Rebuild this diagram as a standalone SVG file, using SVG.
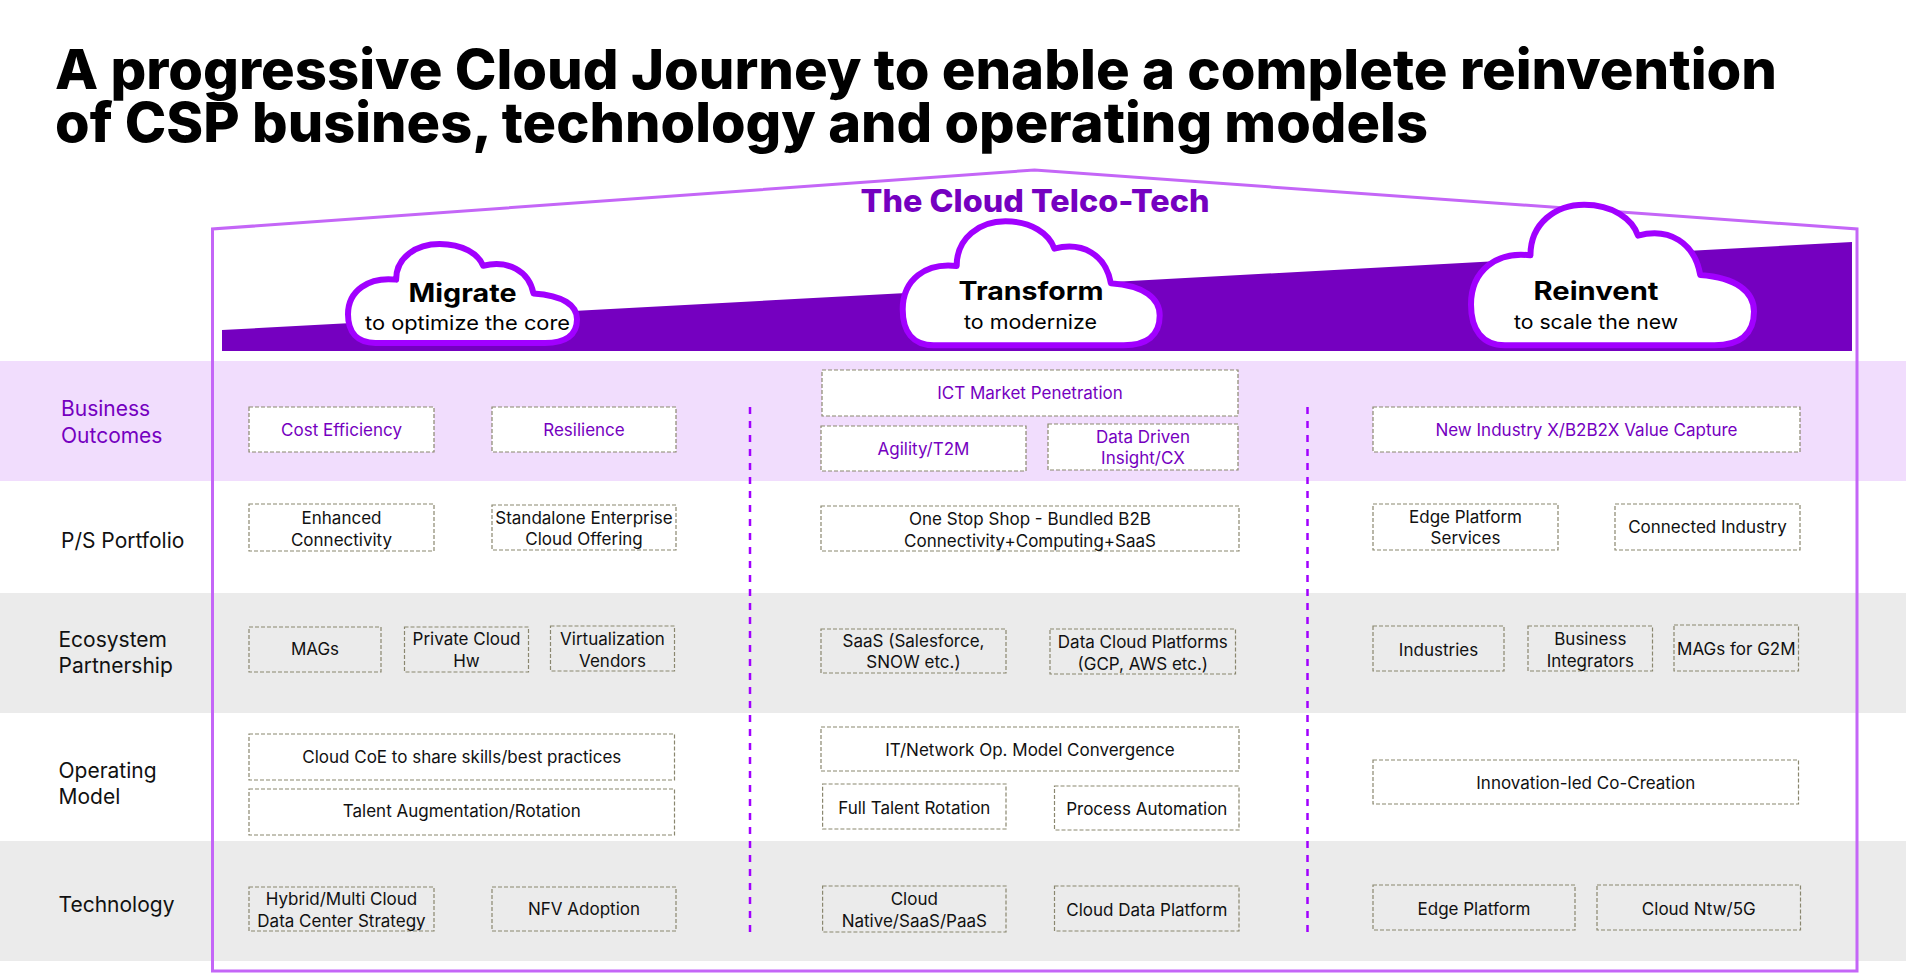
<svg xmlns="http://www.w3.org/2000/svg" width="1906" height="978" viewBox="0 0 1906 978">
  <defs>
    <style>
      .bg { fill: #ffffff; }
      .band-lav { fill: #f1ddfd; }
      .band-gray { fill: #ebebeb; }
      .title { font-family: Inter, "Liberation Sans", sans-serif; font-weight: 800; font-size: 55px; fill: #000; }
      .roof-title { font-family: Inter, "Liberation Sans", sans-serif; font-weight: 800; font-size: 31px; fill: #7500c0; text-anchor: middle; }
      .frame { fill: none; stroke: #c466f7; stroke-width: 3; stroke-linejoin: miter; }
      .wedge { fill: #7500c0; }
      .cloud .shape { fill: #ffffff; stroke: #a100ff; stroke-width: 6; vector-effect: non-scaling-stroke; stroke-linejoin: round; }
      .cloud .head { font-family: Inter, "Liberation Sans", sans-serif; font-weight: 700; font-size: 25px; fill: #000; text-anchor: middle; }
      .cloud .sub { font-family: Inter, "Liberation Sans", sans-serif; font-weight: 400; font-size: 20px; fill: #000; text-anchor: middle; }
      .row text { font-family: Inter, "Liberation Sans", sans-serif; font-size: 21px; fill: #111; }
      .row.purple text { fill: #7500c0; }
      .divider { stroke: #a100ff; stroke-width: 2.5; stroke-dasharray: 7 7; fill: none; }
      .box rect { fill: none; stroke: #8a876f; stroke-width: 1.2; stroke-dasharray: 4 2; }
      .box text { font-family: Inter, "Liberation Sans", sans-serif; font-size: 17px; fill: #111; text-anchor: middle; }
      .box.bo rect { fill: #ffffff; }
      .box.bo text { fill: #7500c0; }
      .box.w rect { fill: #ffffff; }
    </style>
  </defs>

  <rect class="bg" x="0" y="0" width="1906" height="978"/>

  <!-- heading -->
  <g id="heading">
    <text class="title" x="55" y="89" textLength="1722" lengthAdjust="spacingAndGlyphs">A progressive Cloud Journey to enable a complete reinvention</text>
    <text class="title" x="55" y="141.5" textLength="1373" lengthAdjust="spacingAndGlyphs">of CSP busines, technology and operating models</text>
  </g>

  <!-- horizontal row bands -->
  <g id="bands">
    <rect class="band-lav" x="0" y="361" width="1906" height="120"/>
    <rect class="band-gray" x="0" y="593" width="1906" height="120"/>
    <rect class="band-gray" x="0" y="841" width="1906" height="120"/>
  </g>

  <!-- house-shaped frame -->
  <path id="frame" class="frame" d="M 212.5,971 L 212.5,229 L 1034.5,170 L 1857,229 L 1857,971 Z"/>

  <text id="roof-title" class="roof-title" x="1035" y="211.5" textLength="349" lengthAdjust="spacingAndGlyphs">The Cloud Telco-Tech</text>

  <!-- rising journey wedge -->
  <polygon id="wedge" class="wedge" points="222,351 222,330 1852,242 1852,351"/>

  <!-- journey stages: cloud outline drawn on a 100 x 100 unit box, then scaled -->
  <g id="stage-migrate" class="cloud">
    <path class="shape" transform="translate(348,244) scale(2.29,0.99)" d="M 12,100 C 4,100 0,89 0,71 C 0,47 9,33 21,36 C 21,13 30,0 40,0 C 50,0 57,10 59,22 C 70,16 79,27 81,50 C 94,52 100,62 100,76 C 100,92 95,100 86,100 Z"/>
    <text class="head" x="462.5" y="301.5" textLength="108" lengthAdjust="spacingAndGlyphs">Migrate</text>
    <text class="sub" x="467.5" y="329.5" textLength="205" lengthAdjust="spacingAndGlyphs">to optimize the core</text>
  </g>
  <g id="stage-transform" class="cloud">
    <path class="shape" transform="translate(902.7,221.3) scale(2.57,1.24)" d="M 12,100 C 4,100 0,89 0,71 C 0,47 9,33 21,36 C 21,13 30,0 40,0 C 50,0 57,10 59,22 C 70,16 79,27 81,50 C 94,52 100,62 100,76 C 100,92 95,100 86,100 Z"/>
    <text class="head" x="1031" y="300" textLength="145" lengthAdjust="spacingAndGlyphs">Transform</text>
    <text class="sub" x="1030.5" y="328.5" textLength="133" lengthAdjust="spacingAndGlyphs">to modernize</text>
  </g>
  <g id="stage-reinvent" class="cloud">
    <path class="shape" transform="translate(1471,204.7) scale(2.83,1.406)" d="M 12,100 C 4,100 0,89 0,71 C 0,47 9,33 21,36 C 21,13 30,0 40,0 C 50,0 57,10 59,22 C 70,16 79,27 81,50 C 94,52 100,62 100,76 C 100,92 95,100 86,100 Z"/>
    <text class="head" x="1596" y="300" textLength="125" lengthAdjust="spacingAndGlyphs">Reinvent</text>
    <text class="sub" x="1596" y="328.5" textLength="164" lengthAdjust="spacingAndGlyphs">to scale the new</text>
  </g>

  <!-- row labels -->
  <g id="label-business-outcomes" class="row purple">
    <text x="61" y="416">Business</text>
    <text x="61" y="442.5">Outcomes</text>
  </g>
  <g id="label-ps-portfolio" class="row">
    <text x="61" y="547.5">P/S Portfolio</text>
  </g>
  <g id="label-ecosystem" class="row">
    <text x="58.5" y="646.5">Ecosystem</text>
    <text x="58.5" y="673">Partnership</text>
  </g>
  <g id="label-operating" class="row">
    <text x="58.5" y="777.5">Operating</text>
    <text x="58.5" y="804">Model</text>
  </g>
  <g id="label-technology" class="row">
    <text x="58.5" y="911.5">Technology</text>
  </g>

  <!-- stage dividers -->
  <g id="connectors">
    <line class="divider" x1="750" y1="407" x2="750" y2="932"/>
    <line class="divider" x1="1307.5" y1="407" x2="1307.5" y2="932"/>
  </g>

  <!-- Business Outcomes -->
  <g id="bo-cost" class="box bo"><rect x="249" y="407" width="185" height="45"/><text x="341.5" y="435.5">Cost Efficiency</text></g>
  <g id="bo-resilience" class="box bo"><rect x="492" y="407" width="184" height="45"/><text x="584" y="435.5">Resilience</text></g>
  <g id="bo-ict" class="box bo"><rect x="822" y="370" width="416" height="46"/><text x="1030" y="399">ICT Market Penetration</text></g>
  <g id="bo-agility" class="box bo"><rect x="821" y="426" width="205" height="45"/><text x="923.5" y="454.5">Agility/T2M</text></g>
  <g id="bo-data" class="box bo"><rect x="1048" y="424" width="190" height="46"/><text x="1143" y="442.5">Data Driven</text><text x="1143" y="464">Insight/CX</text></g>
  <g id="bo-industryx" class="box bo"><rect x="1373" y="407" width="427" height="45"/><text x="1586.5" y="435.5">New Industry X/B2B2X Value Capture</text></g>

  <!-- P/S Portfolio -->
  <g id="ps-enhanced" class="box w"><rect x="249" y="504" width="185" height="47"/><text x="341.5" y="524">Enhanced</text><text x="341.5" y="545.5">Connectivity</text></g>
  <g id="ps-standalone" class="box w"><rect x="492" y="505" width="184" height="45"/><text x="584" y="523.5">Standalone Enterprise</text><text x="584" y="545">Cloud Offering</text></g>
  <g id="ps-onestop" class="box w"><rect x="821" y="506" width="418" height="45"/><text x="1030" y="525">One Stop Shop - Bundled B2B</text><text x="1030" y="546.5">Connectivity+Computing+SaaS</text></g>
  <g id="ps-edge" class="box w"><rect x="1373" y="504" width="185" height="46"/><text x="1465.5" y="522.5">Edge Platform</text><text x="1465.5" y="544">Services</text></g>
  <g id="ps-connected" class="box w"><rect x="1615" y="504" width="185" height="46"/><text x="1707.5" y="533">Connected Industry</text></g>

  <!-- Ecosystem Partnership -->
  <g id="eco-mags" class="box"><rect x="249" y="627" width="132" height="45"/><text x="315" y="655">MAGs</text></g>
  <g id="eco-private" class="box"><rect x="404.5" y="627" width="124" height="45"/><text x="466.5" y="645">Private Cloud</text><text x="466.5" y="666.5">Hw</text></g>
  <g id="eco-virt" class="box"><rect x="550.5" y="626" width="124" height="45"/><text x="612.5" y="645">Virtualization</text><text x="612.5" y="666.5">Vendors</text></g>
  <g id="eco-saas" class="box"><rect x="821" y="629" width="185" height="44"/><text x="913.5" y="646.5">SaaS (Salesforce,</text><text x="913.5" y="668">SNOW etc.)</text></g>
  <g id="eco-datacloud" class="box"><rect x="1050" y="629" width="185.5" height="45"/><text x="1142.8" y="648">Data Cloud Platforms</text><text x="1142.8" y="669.5">(GCP, AWS etc.)</text></g>
  <g id="eco-industries" class="box"><rect x="1373" y="626" width="131" height="45"/><text x="1438.5" y="655.5">Industries</text></g>
  <g id="eco-integrators" class="box"><rect x="1528" y="626" width="124.5" height="45"/><text x="1590.3" y="645">Business</text><text x="1590.3" y="666.5">Integrators</text></g>
  <g id="eco-mags-g2m" class="box"><rect x="1674" y="625" width="124.5" height="46"/><text x="1736.3" y="655">MAGs for G2M</text></g>

  <!-- Operating Model -->
  <g id="op-coe" class="box w"><rect x="249" y="734" width="425.5" height="46"/><text x="461.8" y="762.5">Cloud CoE to share skills/best practices</text></g>
  <g id="op-talent" class="box w"><rect x="249" y="789" width="425.5" height="46"/><text x="461.8" y="817">Talent Augmentation/Rotation</text></g>
  <g id="op-convergence" class="box w"><rect x="821" y="727" width="418" height="44"/><text x="1030" y="755.5">IT/Network Op. Model Convergence</text></g>
  <g id="op-fulltalent" class="box w"><rect x="822.6" y="784" width="183.4" height="45"/><text x="914.3" y="814">Full Talent Rotation</text></g>
  <g id="op-automation" class="box w"><rect x="1054.5" y="786" width="184.5" height="44"/><text x="1146.8" y="815">Process Automation</text></g>
  <g id="op-innovation" class="box w"><rect x="1373" y="760" width="425.5" height="44"/><text x="1585.8" y="789">Innovation-led Co-Creation</text></g>

  <!-- Technology -->
  <g id="tech-hybrid" class="box"><rect x="249" y="887" width="185" height="44"/><text x="341.5" y="905">Hybrid/Multi Cloud</text><text x="341.5" y="926.5">Data Center Strategy</text></g>
  <g id="tech-nfv" class="box"><rect x="492" y="887" width="184" height="44"/><text x="584" y="915">NFV Adoption</text></g>
  <g id="tech-native" class="box"><rect x="822.6" y="886" width="183.4" height="46"/><text x="914.3" y="905">Cloud</text><text x="914.3" y="926.5">Native/SaaS/PaaS</text></g>
  <g id="tech-dataplatform" class="box"><rect x="1054.5" y="886" width="184.5" height="45"/><text x="1146.8" y="915.5">Cloud Data Platform</text></g>
  <g id="tech-edge" class="box"><rect x="1373" y="885" width="202" height="45"/><text x="1474" y="915">Edge Platform</text></g>
  <g id="tech-5g" class="box"><rect x="1597" y="885" width="203.5" height="45"/><text x="1698.8" y="915">Cloud Ntw/5G</text></g>
</svg>
